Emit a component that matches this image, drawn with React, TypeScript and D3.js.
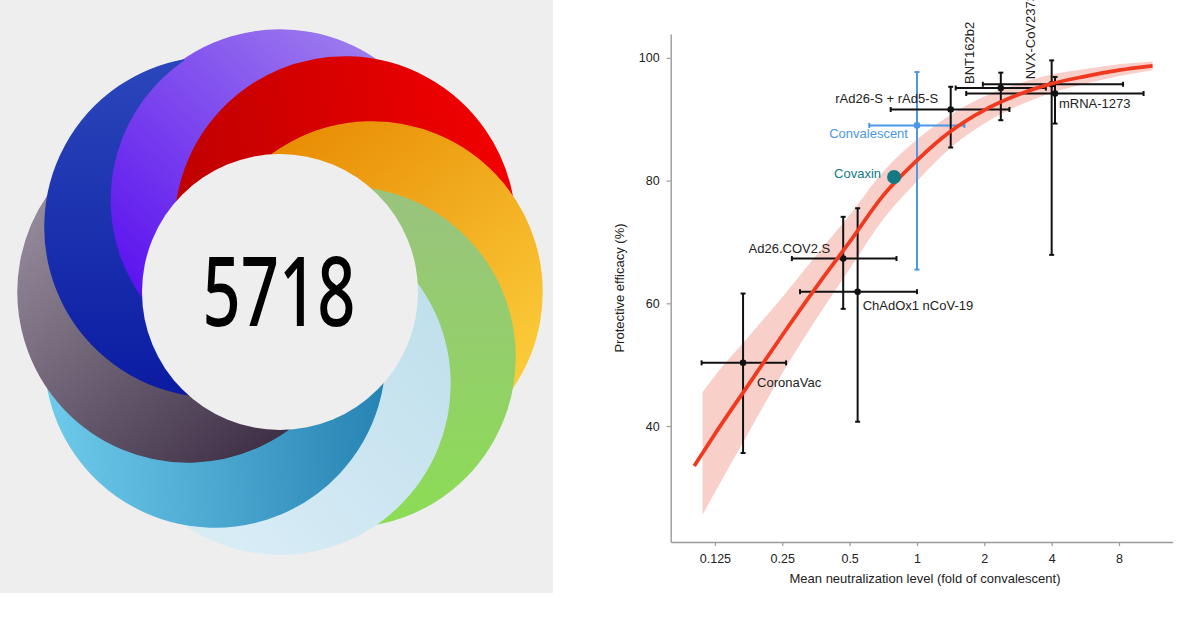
import React, { useEffect, useRef } from "react";
import * as d3 from "d3";

const W = 1200;
const H = 617;

// ---- Altmetric score ----
const score = "5718";
const petalAngles = [-90, -45, 0, 45, 90, 135, 180, 225];
const petalFrom = ["#a182ee", "#bf0000", "#e98f06", "#9ac37e", "#c0e0ec", "#70ccec", "#9c92a2", "#2c48bc"];
const petalTo = ["#5a10ef", "#f40000", "#fed542", "#8cdc56", "#d8ecf6", "#2784b4", "#2e1e36", "#0818a0"];
const petalGradStart = [[400, 50], [180, 240], [300, 140], [420, 190], [470, 350], [40, 420], [30, 170], [200, 50]];
const petalGradEnd = [[150, 320], [520, 200], [530, 430], [420, 520], [250, 560], [380, 400], [330, 480], [200, 420]];

// ---- chart data ----
const vaccines = ["CoronaVac", "Ad26.COV2.S", "ChAdOx1 nCoV-19", "Convalescent", "rAd26-S + rAd5-S", "BNT162b2", "NVX-CoV2373", "mRNA-1273"];
const neut = [0.167, 0.468, 0.543, 1.0, 1.415, 2.37, 4.0, 4.14];
const neutLo = [0.109, 0.276, 0.3, 0.612, 0.763, 1.49, 1.97, 1.66];
const neutHi = [0.26, 0.81, 1.0, 1.63, 2.59, 3.77, 8.34, 10.3];
const eff = [50.3, 67.3, 61.9, 89.0, 91.6, 95.1, 95.7, 94.2];
const effLo = [35.6, 59.1, 40.7, 65.5, 85.4, 89.85, 67.9, 89.3];
const effHi = [61.6, 74.1, 75.5, 97.7, 95.3, 97.6, 99.6, 96.9];

const covaxinName = "Covaxin";
const covaxinNeut = 0.79;
const covaxinEff = 80.6;

const curveNeut = [0.101, 0.125, 0.177, 0.25, 0.354, 0.5, 0.707, 1, 1.41, 2, 2.83, 4, 5.66, 8, 11.3];
const curveEff = [33.5, 38.7, 46.8, 54.8, 62.6, 70.0, 77.6, 83.3, 88.0, 91.5, 94.0, 95.8, 97.0, 98.0, 98.7];
const bandNeut = [0.11, 0.125, 0.177, 0.25, 0.354, 0.5, 0.707, 1, 1.41, 2, 2.83, 4, 5.66, 8, 11.3];
const bandLo = [25.5, 29.2, 39.0, 48.6, 57.4, 65.6, 73.7, 79.9, 85.3, 89.3, 92.2, 94.3, 95.8, 97.05, 98.0];
const bandHi = [45.5, 48.2, 54.6, 61.0, 67.8, 74.4, 81.5, 86.7, 90.7, 93.7, 95.8, 97.3, 98.2, 98.95, 99.4];

const xTicks = [0.125, 0.25, 0.5, 1, 2, 4, 8];
const yTicks = [40, 60, 80, 100];
const xTitle = "Mean neutralization level (fold of convalescent)";
const yTitle = "Protective efficacy (%)";

// label layout: [dx, dy, anchor, rotated]
const labelLayout: [number, number, string, boolean][] = [
  [14, 24, "start", false],
  [-13, -6, "end", false],
  [5, 18, "start", false],
  [-9, 13, "end", false],
  [-12.5, -6, "end", false],
  [-26.5, -4, "start", true],
  [-17, -5, "start", true],
  [4, 14, "start", false],
];

const FONT = "'Liberation Sans', Arial, Helvetica, sans-serif";

export default function App() {
  const ref = useRef<SVGSVGElement>(null);

  useEffect(() => {
    const svg = d3.select(ref.current);
    svg.selectAll("*").remove();

    // ---------- left panel: donut ----------
    svg.append("rect").attr("x", 0).attr("y", 0).attr("width", 553).attr("height", 593).attr("fill", "#eeeeee");
    const defs = svg.append("defs");
    const cx0 = 280, cy0 = 292, rDisc = 170, dOff = 92, hole = 138;
    const discs = petalAngles.map((a) => ({
      cx: cx0 + dOff * Math.cos((a * Math.PI) / 180),
      cy: cy0 + dOff * Math.sin((a * Math.PI) / 180),
    }));

    const donut = svg.append("g");
    discs.forEach((ci, i) => {
      const cn = discs[(i + 1) % discs.length];
      const g = defs.append("linearGradient").attr("id", `pg${i}`).attr("gradientUnits", "userSpaceOnUse")
        .attr("x1", petalGradStart[i][0]).attr("y1", petalGradStart[i][1])
        .attr("x2", petalGradEnd[i][0]).attr("y2", petalGradEnd[i][1]);
      g.append("stop").attr("offset", 0).attr("stop-color", petalFrom[i]);
      g.append("stop").attr("offset", 1).attr("stop-color", petalTo[i]);
      // crescent: own disc minus the clockwise neighbour disc (which lies on top)
      const phi = Math.atan2(cn.cy - ci.cy, cn.cx - ci.cx);
      const D = Math.hypot(cn.cx - ci.cx, cn.cy - ci.cy);
      const alpha = Math.acos(D / 2 / rDisc);
      const p = d3.path();
      p.arc(ci.cx, ci.cy, rDisc, phi + alpha, phi + 2 * Math.PI - alpha, false);
      p.arc(cn.cx, cn.cy, rDisc, phi + Math.PI + alpha, phi + Math.PI - alpha, true);
      p.closePath();
      donut.append("path")
        .attr("d", p.toString())
        .attr("fill", `url(#pg${i})`)
        .attr("stroke", `url(#pg${i})`)
        .attr("stroke-width", 1.4)
        .attr("stroke-linejoin", "round");
    });
    donut.append("circle").attr("cx", cx0).attr("cy", cy0).attr("r", hole).attr("fill", "#eeeeee");
    donut.append("text").attr("x", cx0 - 1).attr("y", cy0 + 34)
      .attr("text-anchor", "middle")
      .attr("font-family", "'Noto Sans', 'Open Sans', sans-serif")
      .attr("font-weight", 500)
      .attr("font-size", 96)
      .attr("textLength", 153)
      .attr("lengthAdjust", "spacingAndGlyphs")
      .attr("fill", "#000")
      .text(score);

    // ---------- right panel: chart ----------
    const x = d3.scaleLog().base(2).domain([0.0793, 13.9]).range([670.7, 1172.7]);
    const y = d3.scaleLinear().domain([21.1, 103.9]).range([542, 34]);
    const chart = svg.append("g");

    // band
    const bandData = bandNeut.map((n, i) => ({ n, lo: bandLo[i], hi: bandHi[i] }));
    chart.append("path").datum(bandData)
      .attr("d", d3.area<any>().x((d) => x(d.n)).y0((d) => y(d.lo)).y1((d) => y(d.hi)).curve(d3.curveMonotoneX))
      .attr("fill", "#f9cfca");

    // axes
    const yAxis = chart.append("g").attr("transform", `translate(${x.range()[0]},0)`)
      .call(d3.axisLeft(y).tickValues(yTicks).tickSize(4).tickSizeOuter(0).tickPadding(7).tickFormat(d3.format("d") as any));
    const xAxis = chart.append("g").attr("transform", `translate(0,${y.range()[0]})`)
      .call(d3.axisBottom(x).tickValues(xTicks).tickSize(4).tickSizeOuter(0).tickPadding(8).tickFormat((d: any) => String(d)));
    [yAxis, xAxis].forEach((a) => {
      a.select(".domain").attr("stroke", "#9a9a9a").attr("stroke-width", 1.4);
      a.selectAll(".tick line").attr("stroke", "#9a9a9a").attr("stroke-width", 1.2);
      a.selectAll(".tick text").attr("font-family", FONT).attr("font-size", 12.5).attr("fill", "#222");
    });

    chart.append("text").attr("x", 925).attr("y", 583).attr("text-anchor", "middle")
      .attr("font-family", FONT).attr("font-size", 13).attr("fill", "#222").text(xTitle);
    chart.append("text").attr("transform", `translate(624,288) rotate(-90)`).attr("text-anchor", "middle")
      .attr("font-family", FONT).attr("font-size", 13).attr("fill", "#222").text(yTitle);

    // error bars
    const cap = 2.5;
    vaccines.forEach((name, i) => {
      const col = name === "Convalescent" ? "#4a97e6" : "#111";
      const g = chart.append("g").attr("stroke", col).attr("stroke-width", 2);
      const px = x(neut[i]), py = y(eff[i]);
      g.append("line").attr("x1", x(neutLo[i])).attr("x2", x(neutHi[i])).attr("y1", py).attr("y2", py);
      g.append("line").attr("x1", x(neutLo[i])).attr("x2", x(neutLo[i])).attr("y1", py - cap).attr("y2", py + cap);
      g.append("line").attr("x1", x(neutHi[i])).attr("x2", x(neutHi[i])).attr("y1", py - cap).attr("y2", py + cap);
      g.append("line").attr("x1", px).attr("x2", px).attr("y1", y(effLo[i])).attr("y2", y(effHi[i]));
      g.append("line").attr("x1", px - cap).attr("x2", px + cap).attr("y1", y(effLo[i])).attr("y2", y(effLo[i]));
      g.append("line").attr("x1", px - cap).attr("x2", px + cap).attr("y1", y(effHi[i])).attr("y2", y(effHi[i]));
      chart.append("circle").attr("cx", px).attr("cy", py).attr("r", 3.3).attr("fill", col);
    });

    // fitted curve
    const curveData = curveNeut.map((n, i) => ({ n, e: curveEff[i] }));
    chart.append("path").datum(curveData)
      .attr("d", d3.line<any>().x((d) => x(d.n)).y((d) => y(d.e)).curve(d3.curveMonotoneX))
      .attr("fill", "none").attr("stroke", "#f03a20").attr("stroke-width", 3.8).attr("stroke-linecap", "butt");

    // covaxin
    chart.append("circle").attr("cx", x(covaxinNeut)).attr("cy", y(covaxinEff)).attr("r", 7).attr("fill", "#137a83");
    chart.append("text").attr("x", x(covaxinNeut) - 13).attr("y", y(covaxinEff) + 1.5)
      .attr("text-anchor", "end").attr("font-family", FONT).attr("font-size", 13).attr("fill", "#137a83").text(covaxinName);

    // labels
    vaccines.forEach((name, i) => {
      const [dx, dy, anchor, rot] = labelLayout[i];
      const px = x(neut[i]) + dx, py = y(eff[i]) + dy;
      const col = name === "Convalescent" ? "#4a97e6" : "#222";
      const t = chart.append("text").attr("font-family", FONT).attr("font-size", 13).attr("fill", col)
        .attr("text-anchor", anchor).text(name);
      if (rot) t.attr("transform", `translate(${px},${py}) rotate(-90)`);
      else t.attr("x", px).attr("y", py);
    });
  }, []);

  return (
    <svg
      ref={ref}
      width={W}
      height={H}
      style={{ position: "absolute", left: 0, top: 0, background: "#ffffff" }}
    />
  );
}
